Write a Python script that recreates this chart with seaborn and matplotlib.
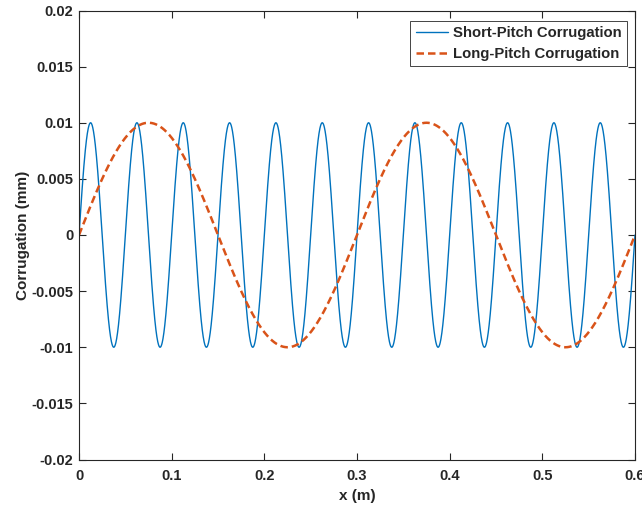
import numpy as np
import pandas as pd
import matplotlib
matplotlib.use("Agg")
import matplotlib.pyplot as plt
import seaborn as sns

# Values
series_names = ["Short-Pitch Corrugation", "Long-Pitch Corrugation"]
amplitudes_mm = [0.01, 0.01]        # peak value of each wave
wavelengths_m = [0.05, 0.3]         # distance between peaks
x_range = [0.0, 0.6]
x_ticks = [0, 0.1, 0.2, 0.3, 0.4, 0.5, 0.6]
x_tick_labels = ["0", "0.1", "0.2", "0.3", "0.4", "0.5", "0.6"]
y_ticks = [-0.02, -0.015, -0.01, -0.005, 0, 0.005, 0.01, 0.015, 0.02]
y_tick_labels = ["-0.02", "-0.015", "-0.01", "-0.005", "0", "0.005", "0.01", "0.015", "0.02"]
colors = ["#0072BD", "#D95319"]

x = np.linspace(x_range[0], x_range[1], 3001)
frames = []
for name, a, w in zip(series_names, amplitudes_mm, wavelengths_m):
    frames.append(pd.DataFrame({"x": x, "y": a * np.sin(2 * np.pi * x / w), "series": name}))
df = pd.concat(frames, ignore_index=True)

sns.set_theme(style="white")
plt.rcParams["font.family"] = ["Liberation Sans", "DejaVu Sans"]
plt.rcParams["font.weight"] = "bold"

fig = plt.figure(figsize=(6.42, 5.09), dpi=100)
ax = fig.add_axes([79 / 642, 1 - 459.5 / 509, (635 - 79) / 642, (459.5 - 10.5) / 509])

sns.lineplot(data=df[df.series == series_names[0]], x="x", y="y", color=colors[0],
             linewidth=1.0, ax=ax, label=series_names[0], estimator=None)
sns.lineplot(data=df[df.series == series_names[1]], x="x", y="y", color=colors[1],
             linewidth=1.8, linestyle=(0, (3, 1.6)), ax=ax, label=series_names[1], estimator=None)

ax.set_xlim(*x_range)
ax.set_ylim(-0.02, 0.02)
ax.set_xticks(x_ticks)
ax.set_xticklabels(x_tick_labels, fontsize=10.5, fontweight="bold", color="#262626")
ax.set_yticks(y_ticks)
ax.set_yticklabels(y_tick_labels, fontsize=10.5, fontweight="bold", color="#262626")
ax.tick_params(direction="in", length=5, width=0.8, top=True, right=True,
               bottom=True, left=True, colors="#262626")
ax.tick_params(axis="x", pad=7)
ax.tick_params(axis="y", pad=4)
for s in ax.spines.values():
    s.set_visible(True)
    s.set_color("#262626")
    s.set_linewidth(0.8)
for lab in ax.get_xticklabels() + ax.get_yticklabels():
    lab.set_color("#262626")

ax.set_xlabel("x (m)", fontsize=11, fontweight="bold", color="#262626", labelpad=4)
ax.set_ylabel("Corrugation (mm)", fontsize=11, fontweight="bold", color="#262626", labelpad=1)

leg = ax.legend(loc="upper right", bbox_to_anchor=(0.985, 0.977), fontsize=10.7,
                frameon=True, fancybox=False, edgecolor="#262626", framealpha=1,
                borderpad=0.35, labelspacing=0.45, handlelength=2.2, handletextpad=0.3,
                borderaxespad=0)
leg.get_frame().set_linewidth(0.6)
for t in leg.get_texts():
    t.set_fontweight("bold")

fig.savefig("out.png", dpi=100)
